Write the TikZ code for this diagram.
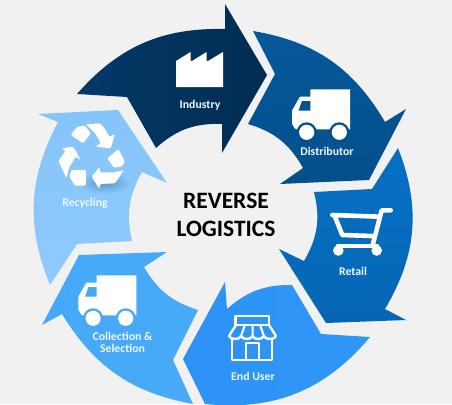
\documentclass[tikz,border=0pt]{standalone}
\usepackage{fontspec}
\setmainfont{Carlito}
\begin{document}
\begin{tikzpicture}[x=1pt,y=-1pt,
  lbl/.style={text=white!93!cyan,font=\fontsize{11.8}{12.2}\selectfont\bfseries,align=center,inner sep=0pt},
  ttl/.style={text=black,font=\fontsize{23.5}{28}\selectfont\bfseries,align=center,inner sep=0pt},
  icon/.style={fill=white,draw=none},
  stroke/.style={draw=white,line width=#1,line join=round,line cap=round}]
\definecolor{bg}{HTML}{F1F1F1}
\definecolor{cA}{HTML}{03396A}\definecolor{cAb}{HTML}{022C50}
\definecolor{cB}{HTML}{05589A}\definecolor{cBb}{HTML}{04508C}
\definecolor{cC}{HTML}{0670C4}\definecolor{cCb}{HTML}{0566B4}
\definecolor{cD}{HTML}{2D92F6}\definecolor{cDb}{HTML}{3097F8}
\definecolor{cE}{HTML}{45A9F9}\definecolor{cEb}{HTML}{48ABF9}
\definecolor{cF}{HTML}{85C4FB}\definecolor{cFb}{HTML}{8FCAFC}
\useasboundingbox (0,0) rectangle (452,404);
\fill[bg] (0,0) rectangle (452,404);
% arrows
\shade[left color=cA,right color=cAb] (77,94) to[bend left=25] (225,29) -- (225,4) -- (267,75) -- (222,153) -- (222,124) to[bend right=22] (156,148) -- (127,97) -- cycle;
\shade[top color=cB,bottom color=cBb] (253,31) to[bend left=25] (385,122) -- (406,109) -- (369,180) -- (280,184) -- (303,168) to[bend right=22] (248,124) -- (275,74) -- cycle;
\shade[top color=cC,bottom color=cCb] (398,148) to[bend left=26] (385,309) -- (406,320) -- (326,323) -- (279,249) -- (304,261) to[bend right=22] (314,192) -- (372,189) -- cycle;
\shade[left color=cD,right color=cDb] (370,337) to[bend left=28] (205,404) -- (183,359) -- (225,282) -- (227,309) to[bend left=21] (292,285) -- (321,334) -- cycle;
\shade[left color=cE,right color=cEb] (62,314) to[bend right=24] (193,404) -- (173,360) -- (198,310) to[bend left=21] (144,267) -- (167,252) -- (79,255) -- (42,325) -- cycle;
\shade[top color=cF,bottom color=cFb] (50,285) to[bend left=25] (58,122) -- (38,114) -- (118,110) -- (167,183) -- (142,172) to[bend right=21] (132,241) -- (77,244) -- cycle;
% factory
\fill[icon] (176,87) -- (176,61) -- (190.5,52) -- (190.5,61) -- (192,61) -- (206.5,52) -- (206.5,61) -- (208,61) -- (223,52) -- (223,87) -- cycle;
% trucks
\newcommand\lorry[3]{%
 \begin{scope}[shift={(#1,#2)}]
  \fill[icon] (0,0) -- (39.7,0) -- (39.7,40) -- (-14,40) to[out=180,in=90] (-18.3,35) -- (-18.3,21.3) -- (-10.3,7.3) -- (0,7.3) -- cycle;
  \fill[#3] (-11.7,21.3) -- (-8.3,11.7) -- (0,11.7) -- (0,21.3) -- cycle;
  \fill[#3] (-3.6,43) circle[radius=10] (29,43) circle[radius=10];
  \fill[icon] (-3.6,43) circle[radius=7.6] (29,43) circle[radius=7.6];
 \end{scope}}
\lorry{310.3}{89.3}{cBb}
\lorry{96.7}{275.3}{cE}
% cart
\draw[stroke=4.6] (390.7,210.3) -- (381.7,210.3) -- (372.7,245);
\draw[stroke=4.6] (332.3,215) -- (380,216.7);
\draw[stroke=4.6] (334.3,215) -- (342.3,235) -- (371.7,236);
\draw[stroke=4.6] (338,246) -- (377,246);
\fill[icon] (338.3,250.5) circle[radius=5.3] (376.7,250.5) circle[radius=5.3];
% store
\draw[stroke=2.4] (235.5,316) -- (235.5,325) -- (269,325) -- (269,316) -- cycle;
\draw[stroke=2.4] (236,325) -- (229,336) .. controls (230,340) and (240,340) .. (241,336)  .. controls (243,340) and (251,340) .. (252.5,336) .. controls (254,340) and (262,340) .. (264,336) .. controls (265,340) and (275,340) .. (276,336) -- (269,325);
\draw[stroke=2] (241,336) -- (245,325) (252.5,336) -- (252.5,325) (264,336) -- (260,325);
\draw[stroke=2.4] (232,339) -- (232,360) -- (272,360) -- (272,339);
\draw[stroke=2.4] (246,360) -- (246,343) -- (258.7,343) -- (258.7,360);
% recycling shadow and icon
\begin{scope}[shift={(50,115)},x=0.3333pt,y=-0.3333pt]
 \foreach \r in {1,...,8}
  \fill[cA,opacity=0.035] (165,205) ellipse[x radius=10+8*\r,y radius=4+3.4*\r];
 \begin{scope}[rounded corners=1.2pt]
 \fill[icon] (108,28) -- (150,25) .. controls (162,36) and (170,50) .. (178,65) -- (195,58) -- (182,100) -- (136,95) -- (152,85) .. controls (146,70) and (136,55) .. (125,45) -- cycle;
 \fill[icon] (62,60) -- (82,35) -- (105,32) -- (122,55) -- (100,85) -- cycle;
 \fill[icon] (35,100) -- (70,95) -- (92,135) -- (77,125) -- (57,158) -- (50,190) -- (25,138) -- (47,108) -- cycle;
 \fill[icon] (65,165) -- (108,165) -- (108,212) -- (75,212) -- (58,185) -- cycle;
 \fill[icon] (125,185) -- (150,155) -- (150,172) -- (195,172) -- (222,165) -- (195,205) -- (150,207) -- (148,222) -- cycle;
 \fill[icon] (172,130) -- (205,102) -- (225,140) -- (215,155) -- (192,158) -- cycle;
 \end{scope}
\end{scope}
% labels
\node[lbl] (industry) at (200,105) {Industry};
\node[lbl] (distributor) at (327,151) {Distributor};
\node[lbl] (retail) at (353,271) {Retail};
\node[lbl] (enduser) at (253,376) {End User};
\node[lbl] (collection) at (122.5,342) {Collection \&\\Selection};
\node[lbl] (recycling) at (85,203) {Recycling};
\node[ttl] (title) at (226,215) {REVERSE\\LOGISTICS};
\end{tikzpicture}
\end{document}
